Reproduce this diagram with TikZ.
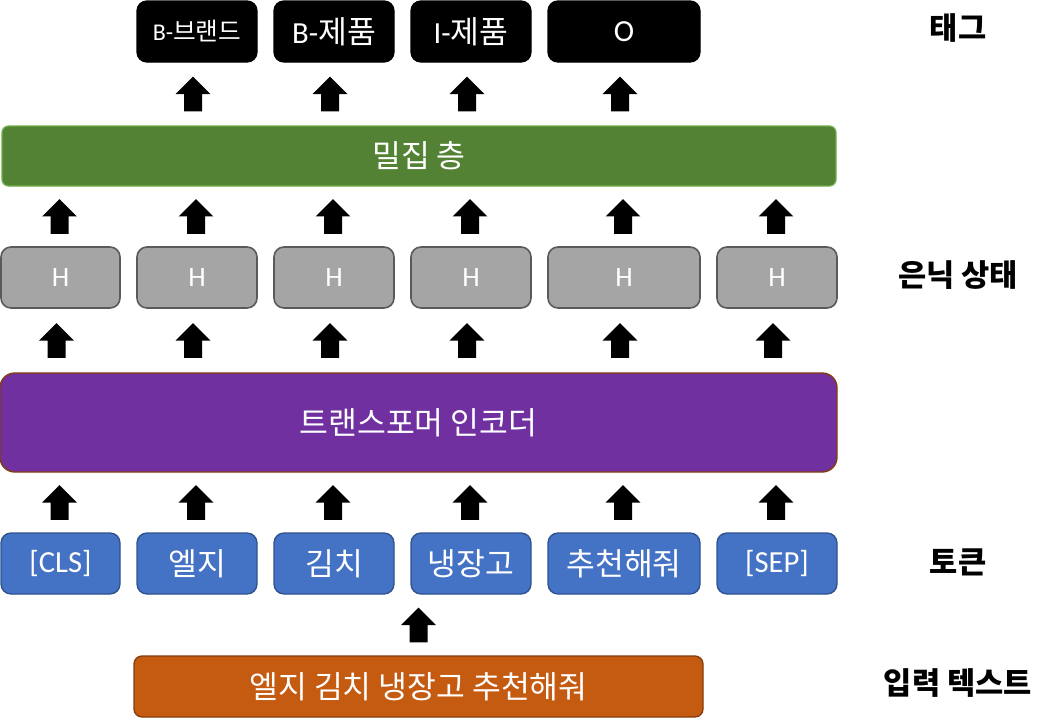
\documentclass[tikz,border=0pt]{standalone}
\usepackage{fontspec}
\setmainfont{Noto Sans CJK KR}
\newfontfamily\latfont{Carlito}
\newcommand\lat[1]{{\latfont\fontsize{23}{26}\selectfont #1}}
\usetikzlibrary{calc}
\definecolor{densec}{HTML}{548235}
\definecolor{densebd}{HTML}{70AD47}
\definecolor{hc}{HTML}{A5A5A5}
\definecolor{hbd}{HTML}{5A5A5A}
\definecolor{trc}{HTML}{7030A0}
\definecolor{trbd}{HTML}{843C0C}
\definecolor{tokc}{HTML}{4472C4}
\definecolor{tokbd}{HTML}{2F528F}
\definecolor{inc}{HTML}{C55A11}
\definecolor{inbd}{HTML}{843C0C}
\tikzset{
  box/.style={rounded corners=7.5pt, line width=1pt, text=white, inner sep=0pt, font=\fontsize{23.5}{26}\selectfont, minimum height=45.75pt},
  tagbox/.style={box, fill=black, draw=black},
  hbox/.style={box, fill=hc, draw=hbd, line width=1.2pt, font=\latfont\fontsize{21}{24}\selectfont},
  tokbox/.style={box, fill=tokc, draw=tokbd},
  sidelabel/.style={font=\fontsize{23}{26}\selectfont\bfseries, inner sep=0pt},
  pics/uparrow/.style={code={\fill[black] (-6.75pt,-13pt)--(-6.75pt,0pt)--(-13pt,0pt)--(0pt,13pt)--(13pt,0pt)--(6.75pt,0pt)--(6.75pt,-13pt)--cycle;}}
}
\begin{document}
\begin{tikzpicture}[x=0.75pt,y=-0.75pt]
\useasboundingbox (0,0) rectangle (1054,721);
% tags
\node[tagbox, minimum width=90pt, font=\fontsize{18.5}{20}\selectfont] (g1) at (197,31.5) {{\latfont\fontsize{18}{20}\selectfont B-}브랜드};
\node[tagbox, minimum width=90pt] (g2) at (334,31.5) {\lat{B-}제품};
\node[tagbox, minimum width=90pt] (g3) at (471,31.5) {\lat{I-}제품};
\node[tagbox, minimum width=114pt] (g4) at (624,31.5) {\lat{O}};
% dense
\node[box, rounded corners=5pt, fill=densec, draw=densebd, minimum width=625.5pt, minimum height=45pt] (dense) at (419,156) {밀집 층};
% hidden
\node[hbox, minimum width=89.25pt] (h1) at (60.5,277.5) {H};
\node[hbox, minimum width=90pt] (h2) at (197,277.5) {H};
\node[hbox, minimum width=90pt] (h3) at (334,277.5) {H};
\node[hbox, minimum width=90pt] (h4) at (471,277.5) {H};
\node[hbox, minimum width=114pt] (h5) at (624,277.5) {H};
\node[hbox, minimum width=90pt] (h6) at (777,277.5) {H};
% transformer
\node[box, rounded corners=11pt, fill=trc, draw=trbd, minimum width=627.75pt, minimum height=74.25pt] (tr) at (418.5,422.5) {트랜스포머 인코더};
% tokens
\node[tokbox, minimum width=89.25pt] (t1) at (60.5,563.5) {\lat{[CLS]}};
\node[tokbox, minimum width=90pt] (t2) at (197,563.5) {엘지};
\node[tokbox, minimum width=90pt] (t3) at (334,563.5) {김치};
\node[tokbox, minimum width=90pt] (t4) at (471,563.5) {냉장고};
\node[tokbox, minimum width=114pt] (t5) at (624,563.5) {추천해줘};
\node[tokbox, minimum width=90pt] (t6) at (777,563.5) {\lat{[SEP]}};
% input
\node[box, rounded corners=6pt, fill=inc, draw=inbd, minimum width=426.75pt] (inp) at (418.5,686.5) {엘지 김치 냉장고 추천해줘};
% side labels
\node[sidelabel] (l1) at (958,28) {태그};
\node[sidelabel] (l2) at (958,275) {은닉 상태};
\node[sidelabel] (l3) at (958,562) {토큰};
\node[sidelabel] (l4) at (958,683) {입력 텍스트};
% arrows dense -> tags
\foreach \g in {g1,g2,g3,g4}
  \pic at ($([xshift=-3pt]\g.south)!0.5!([xshift=-3pt]\g.south |- dense.north)$) {uparrow};
% arrows H -> dense
\foreach \h in {h1,h2,h3,h4,h5,h6}
  \pic at ($([xshift=-0.75pt]\h.north)!0.5!([xshift=-0.75pt]\h.north |- dense.south)$) {uparrow};
% arrows transformer -> H
\foreach \h in {h1,h2,h3,h4,h5,h6}
  \pic at ($([xshift=-3pt]\h.south)!0.5!([xshift=-3pt]\h.south |- tr.north)$) {uparrow};
% arrows tokens -> transformer
\foreach \t in {t1,t2,t3,t4,t5,t6}
  \pic at ($([xshift=-0.75pt]\t.north)!0.5!([xshift=-0.75pt]\t.north |- tr.south)$) {uparrow};
% input -> tokens
\pic at ($(inp.north)!0.5!(inp.north |- t4.south)$) {uparrow};
\end{tikzpicture}
\end{document}
